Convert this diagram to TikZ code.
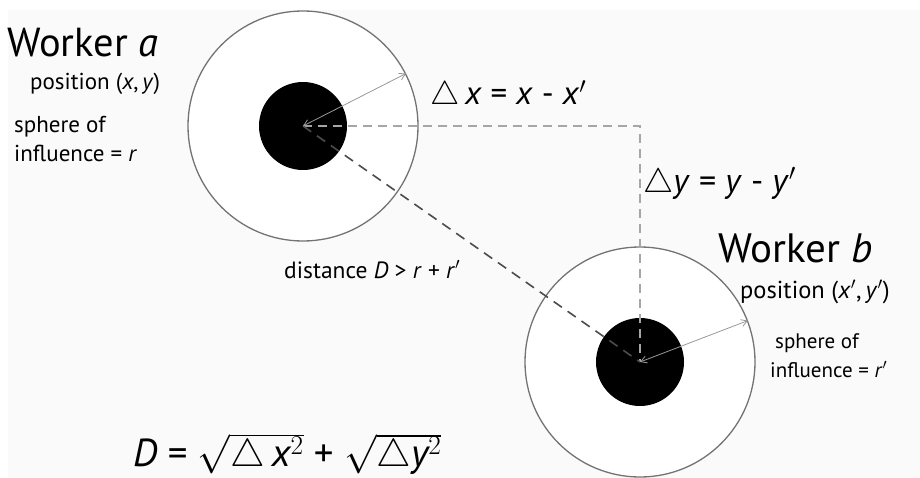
\documentclass[tikz,border=0pt]{standalone}
\usepackage{fix-cm}
\usepackage{fontspec}
\setmainfont{PT Sans}
\usetikzlibrary{arrows.meta, calc}
\tikzset{
  ring/.style={circle, draw=black!55, line width=1.3pt, fill=white, minimum size=230pt, inner sep=0pt},
  core/.style={circle, fill=black, minimum size=88pt, inner sep=0pt},
  reach/.style={black!40, line width=0.8pt, {Straight Barb[length=6pt,width=7pt]}-{Straight Barb[length=6pt,width=7pt]}},
  offsetline/.style={black!35, line width=1.2pt, dash pattern=on 9pt off 6pt},
  gapline/.style={black!70, line width=1.6pt, dash pattern=on 10pt off 7pt},
  lbl/.style={anchor=base west, inner sep=0pt},
}
\newcommand{\fsz}[1]{\fontsize{#1}{#1}\selectfont}

\begin{document}
\begin{tikzpicture}[x=1pt, y=-1pt]
  \useasboundingbox (0,0) rectangle (920,478);
  \fill[black!2] (8,10) rectangle (920,478);
  % the two workers
  \node[ring] (ringa) at (303,126) {};
  \node[core] (dota) at (303,126) {};
  \node[ring] (ringb) at (640,362) {};
  \node[core] (dotb) at (640,362) {};
  \coordinate (corner) at (640,126);
  % offsets and distance
  \draw[offsetline] (dota.center) -- (corner) -- (dotb.center);
  \draw[gapline] (dota.center) -- (dotb.center);
  \draw[reach] (dota.center) -- (ringa.27);
  \draw[reach] (dotb.center) -- (ringb.21);
  % labels
  \node[lbl, font=\fsz{40.5}] (namea) at (7,57) {Worker \textit{a}};
  \node[lbl, font=\fsz{23}] (posa) at (30,90) {position (\textit{x},\,\textit{y})};
  \node[lbl, font=\fsz{23}] (spha) at (14,133) {sphere of};
  \node[lbl, font=\fsz{23}] (infla) at (14,162) {influence = \textit{r}};
  \node[lbl, font=\fsz{33}] (deltax) at (430,105) {$\triangle$\,\textit{x} = \textit{x} - \textit{x}$'$};
  \node[lbl, font=\fsz{34}] (deltay) at (643,193) {$\triangle$\textit{y} = \textit{y} - \textit{y}$'$};
  \node[lbl, font=\fsz{23.5}] (dist) at (284,278) {distance \textit{D} > \textit{r} + \textit{r}$'$};
  \node[lbl, font=\fsz{41}] (nameb) at (718,262) {Worker \textit{b}};
  \node[lbl, font=\fsz{24.5}] (posb) at (740,298) {position (\textit{x}$'$,\,\textit{y}$'$)};
  \node[lbl, font=\fsz{21}] (sphb) at (775,348) {sphere of};
  \node[lbl, font=\fsz{21}] (inflb) at (770,377) {influence = \textit{r}$'$};
  \node[lbl, font=\fsz{39}] (formula) at (133,466) {\textit{D} = $\sqrt{\triangle\,\textit{x}^{2}}$ + $\sqrt{\triangle\textit{y}^{2}}$};
\end{tikzpicture}
\end{document}
